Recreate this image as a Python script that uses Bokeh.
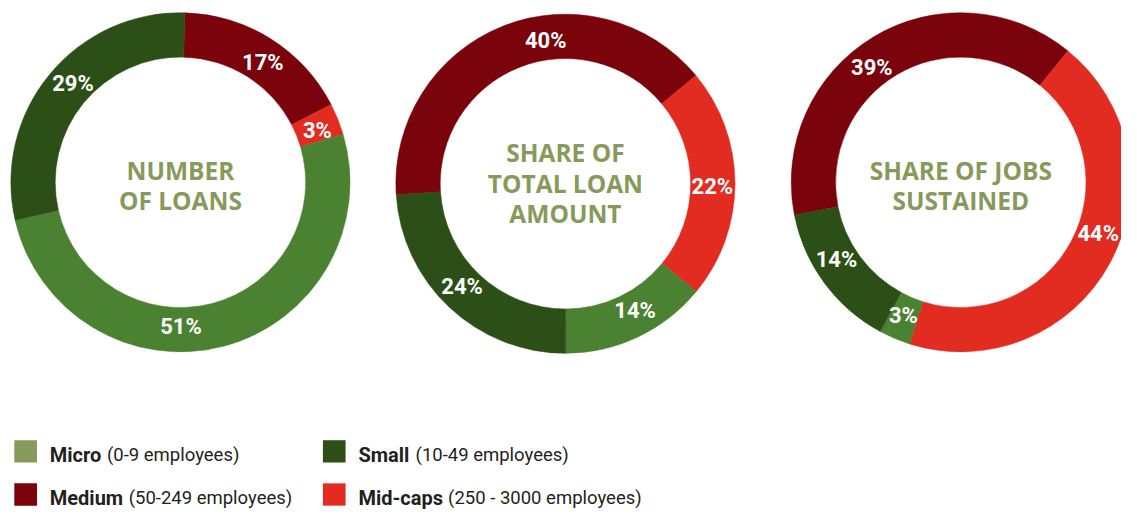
import math
from bokeh.plotting import figure
from bokeh.models import Range1d, ColumnDataSource
from bokeh.core.properties import value
from bokeh.embed import file_html
from bokeh.resources import INLINE

# ---------------- data ----------------
categories = ["Micro", "Small", "Medium", "Mid-caps"]
category_notes = ["(0-9 employees)", "(10-49 employees)", "(50-249 employees)", "(250 - 3000 employees)"]
chart_titles = [["NUMBER", "OF LOANS"],
                ["SHARE OF", "TOTAL LOAN", "AMOUNT"],
                ["SHARE OF JOBS", "SUSTAINED"]]
number_of_loans = [51, 29, 17, 3]          # Micro, Small, Medium, Mid-caps
share_of_loan_amount = [14, 24, 40, 22]
share_of_jobs = [3, 14, 39, 44]
series = [number_of_loans, share_of_loan_amount, share_of_jobs]

# ---------------- style ----------------
W, H = 1121, 510
REF_W, REF_H = 1137, 526
donut_colors = {"Micro": "#4b8232", "Small": "#2c4f17", "Medium": "#7a030c", "Mid-caps": "#e22c21"}
legend_colors = {"Micro": "#879a5b", "Small": "#2c4f17", "Medium": "#7a030c", "Mid-caps": "#e22c21"}
title_color = "#879a5b"
draw_order = ["Medium", "Mid-caps", "Micro", "Small"]   # clockwise
centers = [(182.5, 187.5), (573.0, 189.0), (974.0, 187.5)]  # layout coords (y down)
start_deg = [1.5, 266.3, 258.8]            # clockwise from 12 o'clock
outer_r, inner_r, label_r = 172.0, 127.0, 149.0
label_shift = [[2.0, 0.7, 14.5, 3.7], [14.0, 1.3, -3.0, 1.6], [-6.3, -7.7, 0.0, 4.2]]
title_center_y = [191.0, 188.5, 191.0]
title_line_h = 31.5
label_font = "Roboto"
title_font = "Open Sans"

def py(y):
    return REF_H - y

p = figure(width=W, height=H, output_backend="svg", toolbar_location=None,
           x_range=Range1d(0, REF_W), y_range=Range1d(0, REF_H),
           min_border=0)
p.axis.visible = False
p.grid.visible = False
p.outline_line_color = None
p.background_fill_color = "white"
p.border_fill_color = "white"

for k, vals in enumerate(series):
    cx, cy = centers[k]
    lookup = dict(zip(categories, vals))
    total = float(sum(vals))
    acc = start_deg[k]
    xs, ys, sa, ea, cols = [], [], [], [], []
    lx, ly, lt = [], [], []
    for j, cat in enumerate(draw_order):
        v = lookup[cat]
        span = 360.0 * v / total
        a0, a1 = acc, acc + span
        xs.append(cx); ys.append(py(cy))
        sa.append(math.radians(90 - a0)); ea.append(math.radians(90 - a1))
        cols.append(donut_colors[cat])
        mid = math.radians((a0 + a1) / 2 + label_shift[k][j])
        lx.append(cx + label_r * math.sin(mid))
        ly.append(py(cy - label_r * math.cos(mid)))
        lt.append(f"{v}%")
        acc = a1
    src = ColumnDataSource(dict(x=xs, y=ys, sa=sa, ea=ea, c=cols))
    p.annular_wedge(x="x", y="y", inner_radius=inner_r, outer_radius=outer_r,
                    start_angle="sa", end_angle="ea", direction="clock",
                    fill_color="c", line_color="c", line_width=0.5, source=src)
    p.text(x=lx, y=ly, text=lt, text_align="center", text_baseline="middle",
           text_color="white", text_font=value(label_font), text_font_style="bold",
           text_font_size="22px")
    lines = chart_titles[k]
    n = len(lines)
    tys = [py(title_center_y[k] + (i - (n - 1) / 2) * title_line_h) for i in range(n)]
    p.text(x=[cx] * n, y=tys, text=lines, text_align="center", text_baseline="middle",
           text_color=title_color, text_font=value(title_font), text_font_style="bold",
           text_font_size="24.5px")

# ---------------- legend ----------------
leg_cols_x = [14.0, 327.0]
leg_rows_mid = [468.5, 513.0]     # vertical middle of the text / square rows
sq = 23
text_gap = 36
desc_offsets = {"Micro": 58, "Small": 58, "Medium": 80, "Mid-caps": 91}
leg_pos = {"Micro": (0, 0), "Small": (0, 1), "Medium": (1, 0), "Mid-caps": (1, 1)}
for cat, note in zip(categories, category_notes):
    r, c = leg_pos[cat]
    x0 = leg_cols_x[c]
    mid_y = leg_rows_mid[r]
    p.rect(x=[x0 + sq / 2], y=[py(mid_y - 3.5)], width=sq, height=sq,
           fill_color=legend_colors[cat], line_color=None)
    p.text(x=[x0 + text_gap], y=[py(mid_y)], text=[cat], text_align="left",
           text_baseline="middle", text_color="#231f20", text_font=value(label_font),
           text_font_style="bold", text_font_size="20px")
    p.text(x=[x0 + text_gap + desc_offsets[cat]], y=[py(mid_y)], text=[note], text_align="left",
           text_baseline="middle", text_color="#231f20", text_font=value(label_font),
           text_font_style="normal", text_font_size="18.5px")

open("out.html", "w").write(file_html(p, INLINE))
